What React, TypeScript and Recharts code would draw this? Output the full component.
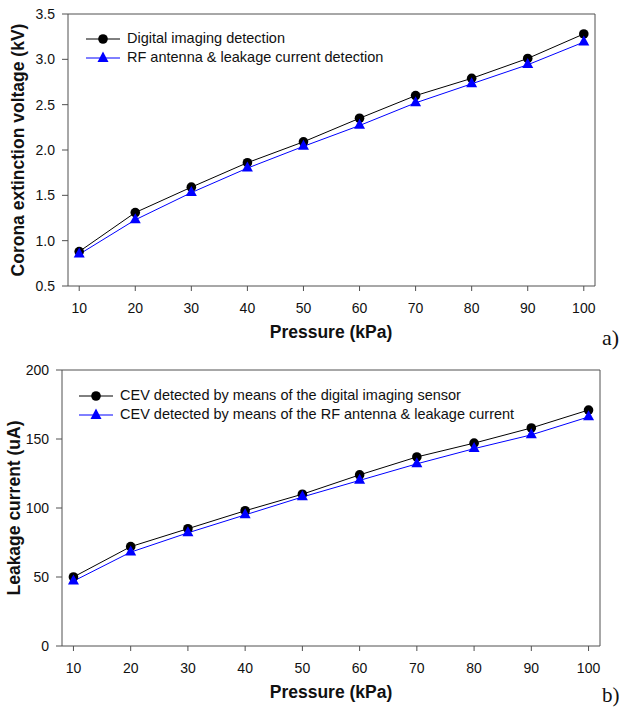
import React from "react";
import { LineChart, Line, XAxis, YAxis, ReferenceLine } from "recharts";

const pressure = [10, 20, 30, 40, 50, 60, 70, 80, 90, 100];
const cevDigital = [0.88, 1.31, 1.59, 1.86, 2.09, 2.35, 2.6, 2.79, 3.01, 3.28];
const cevRF = [0.85, 1.23, 1.53, 1.8, 2.04, 2.27, 2.52, 2.73, 2.94, 3.19];
const currentDigital = [50, 72, 85, 98, 110, 124, 137, 147, 158, 171];
const currentRF = [47, 68, 82, 95, 108, 120, 132, 143, 153, 166];

const xTicks = [10, 20, 30, 40, 50, 60, 70, 80, 90, 100];
const cevTicks = [0.5, 1.0, 1.5, 2.0, 2.5, 3.0, 3.5];
const currentTicks = [0, 50, 100, 150, 200];

const legendA = ["Digital imaging detection", "RF antenna & leakage current detection"];
const legendB = [
  "CEV detected by means of the digital imaging sensor",
  "CEV detected by means of the RF antenna & leakage current",
];

const dataA = pressure.map((p, i) => ({ p, d: cevDigital[i], r: cevRF[i] }));
const dataB = pressure.map((p, i) => ({ p, d: currentDigital[i], r: currentRF[i] }));

const FONT = "'Liberation Sans', Arial, sans-serif";
const AXIS = "#505050";
const BLUE = "#0000ff";

const Circle = (props: any) => {
  const { cx, cy } = props;
  if (cx == null || cy == null) return null;
  return <circle cx={cx} cy={cy} r={4.8} fill="#000" stroke="none" />;
};
const Tri = (props: any) => {
  const { cx, cy } = props;
  if (cx == null || cy == null) return null;
  const h = 10, w = 11;
  return (
    <polygon
      points={`${cx},${cy - (2 * h) / 3} ${cx - w / 2},${cy + h / 3} ${cx + w / 2},${cy + h / 3}`}
      fill={BLUE}
      stroke="none"
    />
  );
};

const LegendBox = ({ labels, fontSize, left, top }: { labels: string[]; fontSize: number; left: number; top: number }) => (
  <div style={{ position: "absolute", left, top, fontFamily: FONT, fontSize, color: "#111", lineHeight: "19px" }}>
    {labels.map((l, i) => (
      <div key={l} style={{ display: "flex", alignItems: "center", height: 19 }}>
        <svg width={41} height={14} style={{ display: "block" }}>
          <line x1={0} x2={34} y1={7} y2={7} stroke={i === 0 ? "#000" : BLUE} strokeWidth={1} />
          {i === 0 ? (
            <circle cx={17} cy={7} r={4.8} fill="#000" />
          ) : (
            <polygon points="17,0.5 11.5,11 22.5,11" fill={BLUE} />
          )}
        </svg>
        <span style={{ whiteSpace: "nowrap" }}>{l}</span>
      </div>
    ))}
  </div>
);

const tickStyle = { fontFamily: FONT, fontSize: 14, fill: "#111" };

export default function App() {
  return (
    <div style={{ position: "absolute", left: 0, top: 0, width: 625, height: 709, background: "#fff", overflow: "hidden" }}>
      <div style={{ position: "absolute", left: 0, top: 0 }}>
        <LineChart width={625} height={350} data={dataA} margin={{ top: 14, right: 30, left: 28, bottom: 34 }}>
          <XAxis
            dataKey="p"
            type="number"
            domain={[8, 102]}
            ticks={xTicks}
            height={30}
            tickSize={5}
            tickMargin={12}
            stroke={AXIS}
            tick={tickStyle}
            interval={0}
          />
          <YAxis
            type="number"
            domain={[0.5, 3.5]}
            ticks={cevTicks}
            width={40}
            tickSize={6}
            tickMargin={7}
            stroke={AXIS}
            tick={tickStyle}
            tickFormatter={(v: number) => v.toFixed(1)}
            interval={0}
          />
          <ReferenceLine y={3.5} stroke={AXIS} strokeWidth={1} ifOverflow="visible" />
          <ReferenceLine x={102} stroke={AXIS} strokeWidth={1} ifOverflow="visible" />
          <Line dataKey="d" stroke="#000" strokeWidth={1} dot={<Circle />} isAnimationActive={false} />
          <Line dataKey="r" stroke={BLUE} strokeWidth={1} dot={<Tri />} isAnimationActive={false} />
        </LineChart>
      </div>
      <LegendBox labels={legendA} fontSize={14.5} left={86} top={29} />
      <div style={{ position: "absolute", left: 0, top: 356 }}>
        <LineChart width={625} height={353} data={dataB} margin={{ top: 14, right: 25, left: 22, bottom: 33 }}>
          <XAxis
            dataKey="p"
            type="number"
            domain={[8, 102]}
            ticks={xTicks}
            height={30}
            tickSize={5}
            tickMargin={12}
            stroke={AXIS}
            tick={tickStyle}
            interval={0}
          />
          <YAxis
            type="number"
            domain={[0, 200]}
            ticks={currentTicks}
            width={40}
            tickSize={6}
            tickMargin={7}
            stroke={AXIS}
            tick={tickStyle}
            interval={0}
          />
          <ReferenceLine y={200} stroke={AXIS} strokeWidth={1} ifOverflow="visible" />
          <ReferenceLine x={102} stroke={AXIS} strokeWidth={1} ifOverflow="visible" />
          <Line dataKey="d" stroke="#000" strokeWidth={1} dot={<Circle />} isAnimationActive={false} />
          <Line dataKey="r" stroke={BLUE} strokeWidth={1} dot={<Tri />} isAnimationActive={false} />
        </LineChart>
      </div>
      <LegendBox labels={legendB} fontSize={14.5} left={79} top={386} />
      <svg width={625} height={709} style={{ position: "absolute", left: 0, top: 0, pointerEvents: "none" }}>
        <text x={331} y={332} textAnchor="middle" dominantBaseline="central" fontFamily={FONT} fontWeight="bold" fontSize={17.5} fill="#111">
          Pressure (kPa)
        </text>
        <text
          x={18}
          y={150}
          textAnchor="middle"
          dominantBaseline="central"
          fontFamily={FONT}
          fontWeight="bold"
          fontSize={17.5}
          fill="#111"
          transform="rotate(-90 18 150)"
        >
          Corona extinction voltage (kV)
        </text>
        <text x={602} y={345} fontFamily="serif" fontSize={22} fill="#111">
          a)
        </text>
        <text x={331} y={692} textAnchor="middle" dominantBaseline="central" fontFamily={FONT} fontWeight="bold" fontSize={17.5} fill="#111">
          Pressure (kPa)
        </text>
        <text
          x={14}
          y={508}
          textAnchor="middle"
          dominantBaseline="central"
          fontFamily={FONT}
          fontWeight="bold"
          fontSize={17.5}
          fill="#111"
          transform="rotate(-90 14 508)"
        >
          Leakage current (uA)
        </text>
        <text x={602} y={702} fontFamily="serif" fontSize={21} fill="#111">
          b)
        </text>
      </svg>
    </div>
  );
}
